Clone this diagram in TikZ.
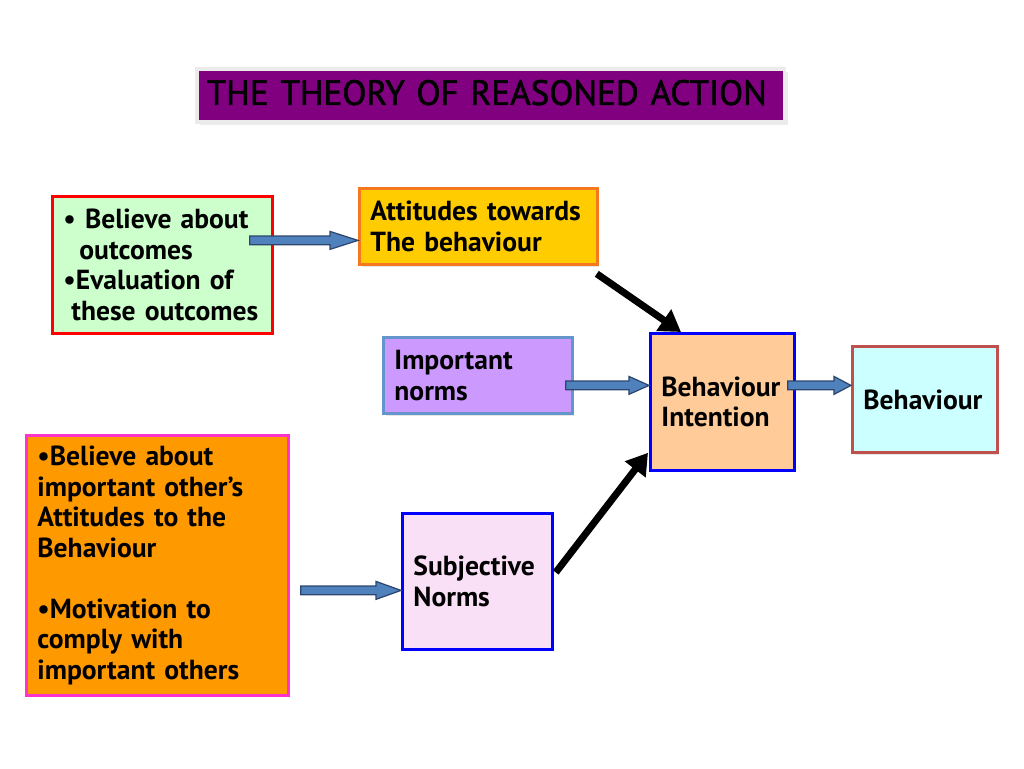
\documentclass[tikz,border=0pt]{standalone}
\usepackage{fontspec}
\setmainfont{PT Sans}
\newfontfamily\titlefont[FakeBold=1.6]{PT Sans}
\usetikzlibrary{positioning,calc,arrows.meta,shadows}

\definecolor{titlepurple}{RGB}{128,0,128}
\definecolor{arrowfill}{RGB}{79,129,189}
\definecolor{arrowedge}{RGB}{44,70,110}
\definecolor{beliefgreen}{RGB}{204,255,204}
\definecolor{attgold}{RGB}{255,204,0}
\definecolor{attedge}{RGB}{245,120,30}
\definecolor{normlilac}{RGB}{204,153,255}
\definecolor{normedge}{RGB}{100,150,205}
\definecolor{intpeach}{RGB}{255,204,153}
\definecolor{behcyan}{RGB}{204,255,255}
\definecolor{behedge}{RGB}{192,80,77}
\definecolor{refsorange}{RGB}{255,153,0}
\definecolor{refsedge}{RGB}{255,51,204}
\definecolor{subjpink}{RGB}{249,224,246}

\tikzset{
  box/.style={draw, line width=1.6pt, anchor=north west, align=left,
    inner xsep=0.22cm, inner ysep=0pt,
    font=\fontsize{15.7}{17.35}\selectfont\bfseries,
    drop shadow={shadow xshift=1.2pt, shadow yshift=-1.2pt, opacity=.2}},
  blockarrow/.style={draw=arrowedge, fill=arrowfill, line width=0.7pt,
    to path={let \p1=(\tikztostart), \p2=(\tikztotarget) in
      (\x1,\y1+2.45pt) -- (\x2-#1,\y1+2.45pt) -- (\x2-#1,\y1+5.1pt)
      -- (\x2,\y1) -- (\x2-#1,\y1-5.1pt) -- (\x2-#1,\y1-2.45pt)
      -- (\x1,\y1-2.45pt) -- cycle}},
  blockarrow/.default=14pt,
  thickarrow/.style={line width=4pt, -{Triangle[length=0.42cm, width=0.5cm]}}
}

\begin{document}
\begin{tikzpicture}[x=0.02cm, y=-0.02cm]
  \useasboundingbox (0,0) rectangle (1024,768);

  % Title
  \node[anchor=north west, fill=titlepurple, draw=black!8, line width=2pt,
    minimum height=1.06cm, text width=11.36cm, inner xsep=0.2cm, align=left,
    font=\fontsize{20}{24}\titlefont,
    drop shadow={shadow xshift=2pt, shadow yshift=-2pt, opacity=.15}]
    (title) at (195,67) {\mbox{THE THEORY OF REASONED ACTION}\vspace*{3pt}};

  % Boxes
  \node[box, draw=red, fill=beliefgreen, text width=3.96cm, minimum height=2.74cm]
    (beliefs) at (51,195)
    {• Believe about\\\hspace*{0.32cm}outcomes\\•Evaluation of\\\hspace*{0.16cm}these outcomes};
  \node[box, draw=attedge, fill=attgold, text width=4.32cm, minimum height=1.52cm]
    (attitudes) at (358,187) {Attitudes towards\\The behaviour};
  \node[box, draw=normedge, fill=normlilac, text width=3.34cm, minimum height=1.52cm]
    (norms) at (382,336) {Important\\norms};
  \node[box, draw=blue, fill=intpeach, text width=2.44cm, minimum height=2.74cm]
    (intention) at (649,332) {Behaviour\\Intention};
  \node[box, draw=behedge, fill=behcyan, text width=2.46cm, minimum height=2.12cm]
    (behaviour) at (851,345) {Behaviour};
  \node[box, draw=refsedge, fill=refsorange, text width=4.80cm, minimum height=5.20cm]
    (referents) at (25,434)
    {•Believe about\\important other’s\\Attitudes to the\\Behaviour\\[17.35pt]•Motivation to\\comply with\\important others};
  \node[box, draw=blue, fill=subjpink, text width=2.56cm, minimum height=2.72cm]
    (subjective) at (401,512) {Subjective\\Norms};

  % Block arrows
  \path[blockarrow=15.9pt] ($(beliefs.east)+(-24,-24.5)$) to (attitudes.west);
  \path[blockarrow=11.4pt] ($(norms.east)+(-8,10)$) to (intention.west);
  \path[blockarrow=9.7pt] ($(intention.east)+(-8,-16.5)$) to (behaviour.west);
  \path[blockarrow=14.2pt] ($(referents.east)+(11,25)$) to (subjective.west);

  % Black arrows
  \draw[thickarrow] ($(attitudes.south east)+(-2,8)$) -- ($(intention.north west)+(32,0)$);
  \draw[thickarrow] ($(subjective.east)+(2,-9)$) -- ($(intention.south west)+(-1,-19)$);
\end{tikzpicture}
\end{document}
